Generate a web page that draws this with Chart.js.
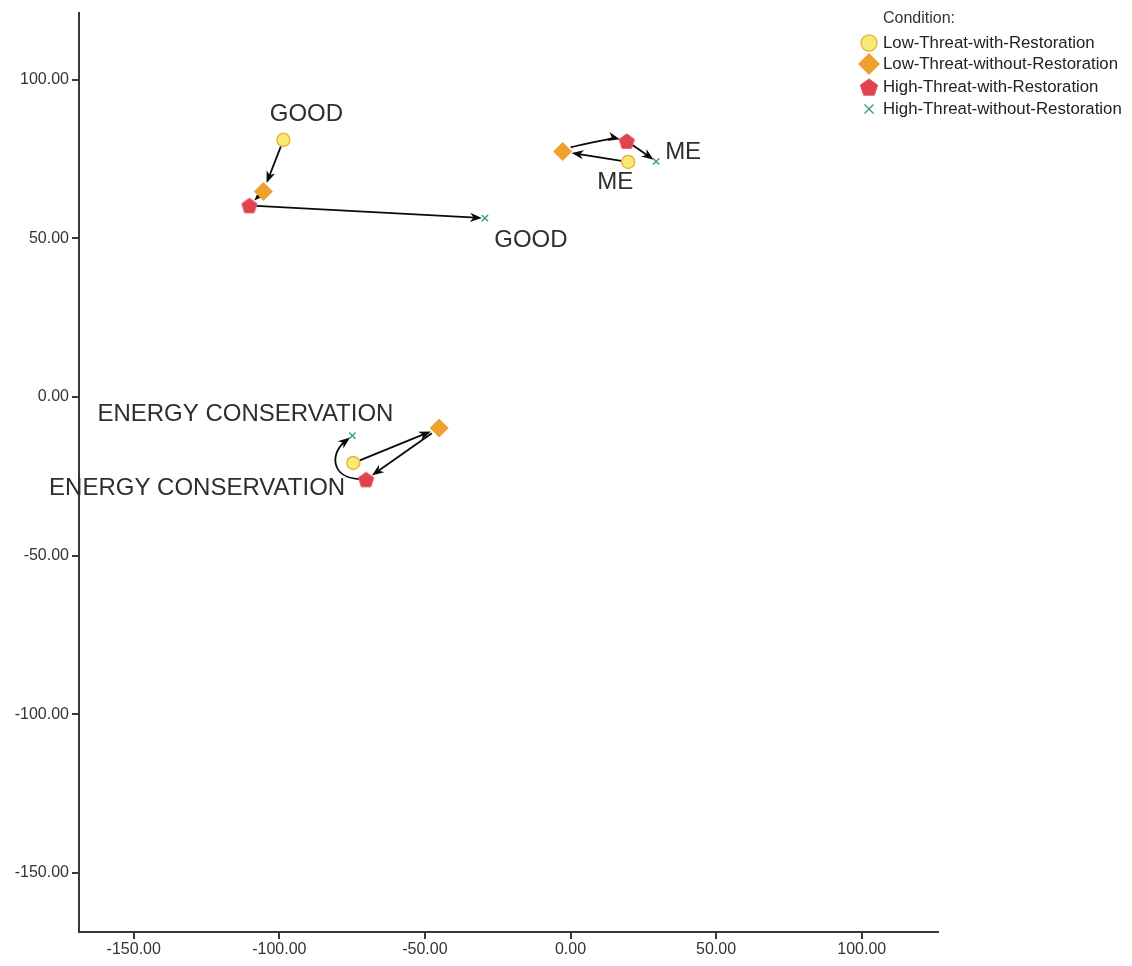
<!DOCTYPE html>
<html>
<head>
<meta charset="utf-8">
<script src="https://cdn.jsdelivr.net/npm/chart.js@4/dist/chart.umd.min.js"></script>
<style>
  html, body { margin: 0; padding: 0; background: #ffffff; }
  #wrap { width: 1132px; height: 966px; position: relative; }
</style>
</head>
<body>
<div id="wrap"><canvas id="chart" width="1132" height="966"></canvas></div>
<script>
// Words placed in the two-dimensional space, one position per condition.
const words = ['GOOD', 'ME', 'ENERGY CONSERVATION'];

const conditionNames = [
  'Low-Threat-with-Restoration',
  'Low-Threat-without-Restoration',
  'High-Threat-with-Restoration',
  'High-Threat-without-Restoration'
];

const lowWithX     = [-98.6,  19.8, -74.6];
const lowWithY     = [ 81.1,  74.1, -20.8];
const lowWithoutX  = [-105.5, -2.7, -45.1];
const lowWithoutY  = [ 64.8,  77.4,  -9.8];
const highWithX    = [-110.3, 19.3, -70.2];
const highWithY    = [ 60.4,  80.7, -26.0];
const highWithoutX = [-29.4,  29.4, -74.9];
const highWithoutY = [ 56.4,  74.3, -12.2];

const xTicks = [-150, -100, -50, 0, 50, 100];
const yTicks = [-150, -100, -50, 0, 50, 100];

const FONT = "'Liberation Sans', Arial, Helvetica, sans-serif";
Chart.defaults.font.family = FONT;

function toPoints(xs, ys) {
  return xs.map((x, i) => ({ x: x, y: ys[i] }));
}

// Regular pentagon marker rendered to a small canvas (used as a point style).
function makePentagon(r, fill, stroke) {
  const s = Math.ceil(r * 2 + 4);
  const c = document.createElement('canvas');
  c.width = s; c.height = s;
  const g = c.getContext('2d');
  const cx = s / 2, cy = s / 2 + r * 0.1;
  g.beginPath();
  for (let k = 0; k < 5; k++) {
    const a = -Math.PI / 2 + k * 2 * Math.PI / 5;
    const px = cx + r * Math.cos(a), py = cy + r * Math.sin(a);
    if (k === 0) g.moveTo(px, py); else g.lineTo(px, py);
  }
  g.closePath();
  g.fillStyle = fill;
  g.fill();
  g.lineWidth = 1;
  g.strokeStyle = stroke;
  g.stroke();
  return c;
}

const pentagonSmall = makePentagon(8, '#e0434f', '#d8505a');
const pentagonLegend = makePentagon(9, '#e0434f', '#d8505a');

const styles = [
  { pointStyle: 'circle',   radius: 6.5, bg: '#f8ea72', border: '#e9b640', bw: 1.5 },
  { pointStyle: 'rectRot',  radius: 9,   bg: '#f0a02c', border: '#eaa23a', bw: 1 },
  { pointStyle: pentagonSmall, radius: 8, bg: '#e0434f', border: '#e0434f', bw: 0 },
  { pointStyle: 'crossRot', radius: 4.5, bg: '#3b9c7c', border: '#3b9c7c', bw: 1.4 }
];

const seriesX = [lowWithX, lowWithoutX, highWithX, highWithoutX];
const seriesY = [lowWithY, lowWithoutY, highWithY, highWithoutY];

const datasets = conditionNames.map((name, d) => ({
  label: name,
  data: toPoints(seriesX[d], seriesY[d]),
  showLine: false,
  pointStyle: styles[d].pointStyle,
  pointRadius: styles[d].radius,
  pointBackgroundColor: styles[d].bg,
  pointBorderColor: styles[d].border,
  pointBorderWidth: styles[d].bw
}));

// Gap left between an arrow end and the marker it touches, per condition.
const markerGap = [7, 9, 7, 3];

// Extra bending for some path segments: [word, segmentIndex] -> bezier offsets.
const bends = {
  '1-1': { c1: [10, -5], c2: [-12, -3] },
  '2-2': { c1: [-36, -2], c2: [-22, 17] }
};

// Word labels, anchored on a marker with a pixel offset (text centre).
const labelSpots = [
  { word: 0, cond: 0, dx: 23,   dy: -25 },
  { word: 0, cond: 3, dx: 46,   dy: 22 },
  { word: 1, cond: 3, dx: 27,   dy: -9 },
  { word: 1, cond: 0, dx: -13,  dy: 20 },
  { word: 2, cond: 3, dx: -107, dy: -21 },
  { word: 2, cond: 2, dx: -169, dy: 9 }
];

function arrowHead(ctx, x, y, angle) {
  const len = 12, half = 4.6;
  ctx.save();
  ctx.translate(x, y);
  ctx.rotate(angle);
  ctx.beginPath();
  ctx.moveTo(0, 0);
  ctx.lineTo(-len, -half);
  ctx.lineTo(-len * 0.7, 0);
  ctx.lineTo(-len, half);
  ctx.closePath();
  ctx.fill();
  ctx.restore();
}

const pathPlugin = {
  id: 'wordPaths',
  beforeDatasetsDraw(chart) {
    const ctx = chart.ctx;
    const xs = chart.scales.x, ys = chart.scales.y;
    ctx.save();
    ctx.strokeStyle = '#0a0a0a';
    ctx.fillStyle = '#0a0a0a';
    ctx.lineWidth = 1.8;
    words.forEach((w, i) => {
      const pts = seriesX.map((sx, d) => ({
        x: xs.getPixelForValue(sx[i]),
        y: ys.getPixelForValue(seriesY[d][i]),
        gap: markerGap[d]
      }));
      for (let s = 0; s < pts.length - 1; s++) {
        const a = pts[s], b = pts[s + 1];
        const bend = bends[i + '-' + s];
        if (bend) {
          const c1 = { x: a.x + bend.c1[0], y: a.y + bend.c1[1] };
          const c2 = { x: b.x + bend.c2[0], y: b.y + bend.c2[1] };
          const a0 = Math.atan2(c1.y - a.y, c1.x - a.x);
          const a1 = Math.atan2(b.y - c2.y, b.x - c2.x);
          const sx0 = a.x + Math.cos(a0) * a.gap, sy0 = a.y + Math.sin(a0) * a.gap;
          const ex = b.x - Math.cos(a1) * b.gap, ey = b.y - Math.sin(a1) * b.gap;
          ctx.beginPath();
          ctx.moveTo(sx0, sy0);
          ctx.bezierCurveTo(c1.x, c1.y, c2.x, c2.y, ex - Math.cos(a1) * 6, ey - Math.sin(a1) * 6);
          ctx.stroke();
          arrowHead(ctx, ex, ey, a1);
        } else {
          const ang = Math.atan2(b.y - a.y, b.x - a.x);
          const sx0 = a.x + Math.cos(ang) * a.gap, sy0 = a.y + Math.sin(ang) * a.gap;
          const ex = b.x - Math.cos(ang) * b.gap, ey = b.y - Math.sin(ang) * b.gap;
          ctx.beginPath();
          ctx.moveTo(sx0, sy0);
          ctx.lineTo(ex - Math.cos(ang) * 6, ey - Math.sin(ang) * 6);
          ctx.stroke();
          arrowHead(ctx, ex, ey, ang);
        }
      }
    });
    ctx.restore();
  },
  afterDatasetsDraw(chart) {
    const ctx = chart.ctx;
    const xs = chart.scales.x, ys = chart.scales.y;
    ctx.save();
    ctx.font = '24px ' + FONT;
    ctx.fillStyle = '#2e2e2e';
    ctx.textAlign = 'center';
    ctx.textBaseline = 'middle';
    labelSpots.forEach(l => {
      const px = xs.getPixelForValue(seriesX[l.cond][l.word]);
      const py = ys.getPixelForValue(seriesY[l.cond][l.word]);
      ctx.fillText(words[l.word], px + l.dx, py + l.dy);
    });
    ctx.restore();
  },
  afterDraw(chart) {
    // Legend block in the upper right corner.
    const ctx = chart.ctx;
    ctx.save();
    ctx.textBaseline = 'middle';
    ctx.textAlign = 'left';
    ctx.fillStyle = '#333';
    ctx.font = '16px ' + FONT;
    ctx.fillText('Condition:', 883, 19);
    ctx.font = '16.8px ' + FONT;
    const rowY = [43, 64, 87, 109];
    const mx = 869;
    conditionNames.forEach((name, d) => {
      const y = rowY[d];
      ctx.save();
      if (d === 0) {
        ctx.beginPath();
        ctx.arc(mx, y, 8, 0, Math.PI * 2);
        ctx.fillStyle = styles[0].bg; ctx.fill();
        ctx.lineWidth = 1.5; ctx.strokeStyle = styles[0].border; ctx.stroke();
      } else if (d === 1) {
        const r = 11;
        ctx.beginPath();
        ctx.moveTo(mx, y - r); ctx.lineTo(mx + r, y); ctx.lineTo(mx, y + r); ctx.lineTo(mx - r, y);
        ctx.closePath();
        ctx.fillStyle = styles[1].bg; ctx.fill();
      } else if (d === 2) {
        ctx.drawImage(pentagonLegend, mx - pentagonLegend.width / 2, y - pentagonLegend.height / 2);
      } else {
        const r = 4.5;
        ctx.beginPath();
        ctx.moveTo(mx - r, y - r); ctx.lineTo(mx + r, y + r);
        ctx.moveTo(mx + r, y - r); ctx.lineTo(mx - r, y + r);
        ctx.lineWidth = 1.4; ctx.strokeStyle = styles[3].border; ctx.stroke();
      }
      ctx.restore();
      ctx.fillStyle = '#222';
      ctx.fillText(name, 883, y);
    });
    ctx.restore();
  }
};

const axisColor = '#383838';

new Chart(document.getElementById('chart'), {
  type: 'scatter',
  data: { datasets: datasets },
  options: {
    responsive: false,
    animation: false,
    events: [],
    layout: { padding: { top: 10, right: 194, bottom: 0, left: 0 } },
    plugins: { legend: { display: false }, tooltip: { enabled: false } },
    scales: {
      x: {
        type: 'linear',
        min: -168.8,
        max: 126.2,
        afterBuildTicks(scale) { scale.ticks = xTicks.map(v => ({ value: v })); },
        afterFit(scale) { scale.height = 34; },
        border: { display: true, color: axisColor, width: 2 },
        grid: { display: true, drawOnChartArea: false, drawTicks: true, tickLength: 7, color: axisColor, lineWidth: 2 },
        ticks: {
          color: '#333',
          font: { size: 16, family: FONT },
          padding: 1,
          maxRotation: 0,
          callback: v => Number(v).toFixed(2)
        }
      },
      y: {
        type: 'linear',
        min: -168.7,
        max: 121.2,
        afterBuildTicks(scale) { scale.ticks = yTicks.map(v => ({ value: v })); },
        afterFit(scale) { scale.width = 79; },
        border: { display: true, color: axisColor, width: 2 },
        grid: { display: true, drawOnChartArea: false, drawTicks: true, tickLength: 7, color: axisColor, lineWidth: 2 },
        ticks: {
          color: '#333',
          font: { size: 16, family: FONT },
          padding: 3,
          callback: v => Number(v).toFixed(2)
        }
      }
    }
  },
  plugins: [pathPlugin]
});
</script>
</body>
</html>
